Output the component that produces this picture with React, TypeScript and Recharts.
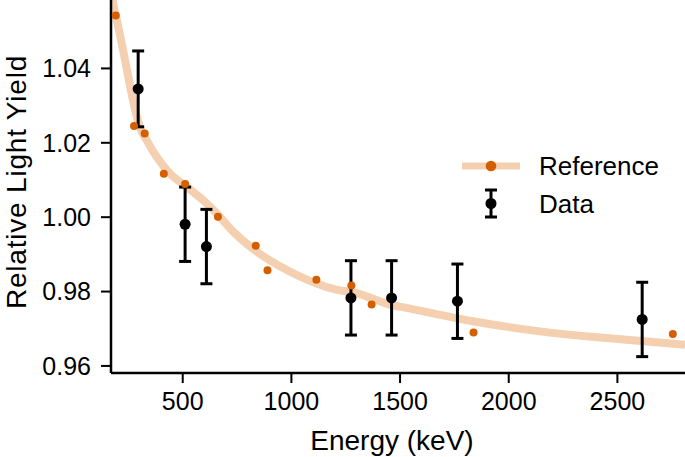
import React from 'react'
import { ComposedChart, Line, Scatter, XAxis, YAxis, ErrorBar, Legend } from 'recharts'

// smooth reference curve (keV, relative light yield)
const curveEnergy = [170, 177, 210, 241, 271, 302, 333, 379, 440, 517, 593, 655, 731, 839, 992, 1207, 1299, 1345, 1452, 1529, 1835, 2142, 2449, 2811]
const curveYield = [1.0605, 1.0583, 1.0494, 1.0404, 1.0315, 1.0243, 1.0208, 1.0163, 1.0118, 1.0082, 1.0046, 1.0011, 0.9962, 0.9908, 0.9854, 0.9805, 0.9796, 0.9787, 0.9765, 0.9756, 0.972, 0.9693, 0.9675, 0.9657]

// reference points
const refEnergy = [192, 276, 325, 413, 511, 662, 836, 890, 1115, 1276, 1369, 1838, 2755]
const refYield = [1.0542, 1.0245, 1.0225, 1.0117, 1.0089, 1.0001, 0.9923, 0.9857, 0.9832, 0.9816, 0.9765, 0.969, 0.9686]

// measured data with errors
const dataEnergy = [295, 511, 609, 1274, 1461, 1764, 2614]
const dataYield = [1.0345, 0.9981, 0.9921, 0.9783, 0.9783, 0.9774, 0.9725]
const dataErr = [0.0102, 0.01, 0.01, 0.01, 0.01, 0.01, 0.01]

const xTicks = [500, 1000, 1500, 2000, 2500]
const yTicks = [0.96, 0.98, 1.0, 1.02, 1.04]

const curve = curveEnergy.map((e, i) => ({ e, v: curveYield[i] }))
const refs = refEnergy.map((e, i) => ({ e, v: refYield[i] }))
const meas = dataEnergy.map((e, i) => ({ e, v: dataYield[i], err: dataErr[i] }))

const FONT = '"Liberation Sans", Arial, Helvetica, sans-serif'
const ORANGE = '#d55e00'
const PEACH = '#f4cfb0'

const renderLegend = () => (
  <svg width={230} height={80} style={{ fontFamily: FONT }}>
    <line x1={7} y1={21} x2={65} y2={21} stroke={PEACH} strokeWidth={7} />
    <circle cx={36} cy={21} r={5.3} fill={ORANGE} />
    <text x={84} y={30} fontSize={26} fill="#000">Reference</text>
    <line x1={36} y1={45} x2={36} y2={72} stroke="#000" strokeWidth={3} />
    <line x1={30} y1={45} x2={42} y2={45} stroke="#000" strokeWidth={3} />
    <line x1={30} y1={72} x2={42} y2={72} stroke="#000" strokeWidth={3} />
    <circle cx={36} cy={58.5} r={5.5} fill="#000" />
    <text x={84} y={68} fontSize={26} fill="#000">Data</text>
  </svg>
)

export default function App() {
  return (
    <div style={{ position: 'absolute', left: 0, top: 0, width: 685, height: 457, background: '#fff', fontFamily: FONT }}>
      <ComposedChart width={685} height={457} margin={{ top: 0, right: 0, bottom: 0, left: 0 }}>
        <XAxis
          dataKey="e"
          type="number"
          domain={[170, 2811]}
          allowDataOverflow
          ticks={xTicks}
          height={84}
          axisLine={{ stroke: '#000', strokeWidth: 2.5 }}
          tickLine={{ stroke: '#000', strokeWidth: 2 }}
          tickSize={10}
          tickMargin={9}
          tick={{ fill: '#000', fontSize: 25, fontFamily: FONT }}
          label={{
            content: () => (
              <text x={392} y={450} textAnchor="middle" fontSize={28} fontFamily={FONT} fill="#000">
                Energy (keV)
              </text>
            ),
          }}
        />
        <YAxis
          dataKey="v"
          type="number"
          domain={[0.9581, 1.0584]}
          allowDataOverflow
          ticks={yTicks}
          width={111}
          tickFormatter={(v: number) => v.toFixed(2)}
          axisLine={{ stroke: '#000', strokeWidth: 2.5 }}
          tickLine={{ stroke: '#000', strokeWidth: 2 }}
          tickSize={10}
          tickMargin={10}
          tick={{ fill: '#000', fontSize: 25, fontFamily: FONT }}
          label={{
            content: () => (
              <text
                x={25.5}
                y={182}
                transform="rotate(-90 25.5 182)"
                textAnchor="middle"
                fontSize={28}
                letterSpacing={0.8}
                fontFamily={FONT}
                fill="#000"
              >
                Relative Light Yield
              </text>
            ),
          }}
        />
        <Line
          data={curve}
          dataKey="v"
          type="monotone"
          stroke={PEACH}
          strokeWidth={8}
          dot={false}
          activeDot={false}
          isAnimationActive={false}
          legendType="none"
        />
        <Scatter
          data={refs}
          dataKey="v"
          isAnimationActive={false}
          shape={(p: any) => <circle cx={p.cx} cy={p.cy} r={4} fill={ORANGE} />}
        />
        <Scatter
          data={meas}
          dataKey="v"
          isAnimationActive={false}
          shape={(p: any) => <circle cx={p.cx} cy={p.cy} r={5.5} fill="#000" />}
        >
          <ErrorBar dataKey="err" direction="y" width={6} stroke="#000" strokeWidth={3} />
        </Scatter>
        <Legend
          layout="horizontal"
          verticalAlign="middle"
          align="center"
          content={renderLegend}
          wrapperStyle={{ position: 'absolute', left: 455, top: 145, width: 230, height: 80 }}
        />
      </ComposedChart>
    </div>
  )
}
